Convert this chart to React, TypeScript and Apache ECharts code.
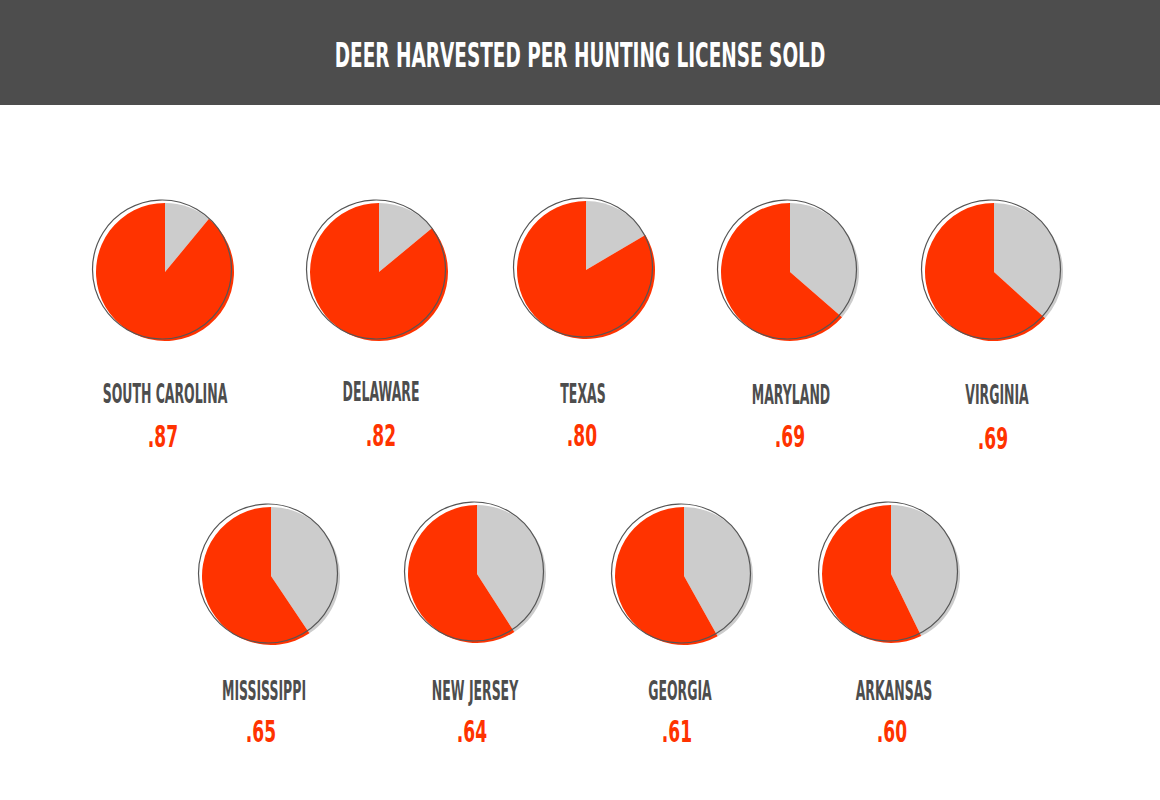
import React, { useEffect, useRef } from 'react';
import * as echarts from 'echarts';

const TITLE = 'DEER HARVESTED PER HUNTING LICENSE SOLD';

// States, in the reference's order
const states = [
  'SOUTH CAROLINA',
  'DELAWARE',
  'TEXAS',
  'MARYLAND',
  'VIRGINIA',
  'MISSISSIPPI',
  'NEW JERSEY',
  'GEORGIA',
  'ARKANSAS',
];

// Printed ratios (deer harvested per licence sold)
const ratioLabels = ['.87', '.82', '.80', '.69', '.69', '.65', '.64', '.61', '.60'];

// Red share of each pie
const harvestShare = [0.89, 0.86, 0.835, 0.636, 0.633, 0.594, 0.591, 0.581, 0.572];
// Grey remainder of each pie
const otherShare = [0.11, 0.14, 0.165, 0.364, 0.367, 0.406, 0.409, 0.419, 0.428];

// ---- layout (positions only) ----
const pieCenters: [number, number][] = [
  [165, 272],
  [379, 272],
  [586, 270],
  [790, 272],
  [994, 272],
  [271, 576],
  [477, 574],
  [684, 576],
  [891, 574],
];
const nameX = [165, 381, 583, 791, 997, 264, 475, 680, 894];
const nameY = [394, 392, 394, 395, 395, 691, 691, 691, 691];
const valueX = [163, 381, 582, 790, 993, 261, 472, 677, 892];
const valueY = [437, 436, 436, 437, 439, 732, 732, 732, 732];

const RED = '#ff3300';
const GREY = '#cccccc';
const FONT = '"DejaVu Sans", sans-serif';

export default function App() {
  const ref = useRef<HTMLDivElement>(null);

  useEffect(() => {
    document.body.style.margin = '0';
    const chart = echarts.init(ref.current as HTMLDivElement, null, {
      renderer: 'svg',
      width: 1160,
      height: 800,
    });

    const series: any[] = [];
    const graphic: any[] = [
      {
        type: 'rect',
        z: 0,
        shape: { x: 0, y: 0, width: 1160, height: 105 },
        style: { fill: '#4d4d4d' },
        silent: true,
      },
      {
        type: 'text',
        z: 10,
        x: 580,
        y: 55,
        scaleX: 0.56,
        style: {
          text: TITLE,
          fill: '#ffffff',
          fontFamily: FONT,
          fontWeight: 'bold',
          fontSize: 33,
          align: 'center',
          verticalAlign: 'middle',
        },
        silent: true,
      },
    ];

    states.forEach((state, i) => {
      const [cx, cy] = pieCenters[i];
      series.push({
        type: 'pie',
        name: state,
        center: [cx, cy],
        radius: [0, 69],
        startAngle: 90,
        clockwise: true,
        silent: true,
        z: 2,
        label: { show: false },
        labelLine: { show: false },
        emphasis: { disabled: true },
        itemStyle: { borderWidth: 0 },
        data: [
          { name: 'Other', value: otherShare[i], itemStyle: { color: GREY } },
          { name: 'Harvested', value: harvestShare[i], itemStyle: { color: RED } },
        ],
      });

      graphic.push({
        type: 'circle',
        z: 20,
        shape: { cx: cx - 3, cy: cy - 2.5, r: 69.5 },
        style: { fill: 'none', stroke: '#555555', lineWidth: 1.2 },
        silent: true,
      });
      graphic.push({
        type: 'text',
        z: 20,
        x: nameX[i],
        y: nameY[i],
        scaleX: 0.48,
        style: {
          text: state,
          fill: '#4d4d4d',
          fontFamily: FONT,
          fontWeight: 'bold',
          fontSize: 26,
          align: 'center',
          verticalAlign: 'middle',
        },
        silent: true,
      });
      graphic.push({
        type: 'text',
        z: 20,
        x: valueX[i],
        y: valueY[i],
        scaleX: 0.57,
        style: {
          text: ratioLabels[i],
          fill: RED,
          fontFamily: FONT,
          fontWeight: 'bold',
          fontSize: 30,
          align: 'center',
          verticalAlign: 'middle',
        },
        silent: true,
      });
    });

    chart.setOption({
      animation: false,
      backgroundColor: '#ffffff',
      graphic: { elements: graphic },
      series,
    });

    return () => {
      chart.dispose();
    };
  }, []);

  return <div ref={ref} style={{ width: 1160, height: 800 }} />;
}
